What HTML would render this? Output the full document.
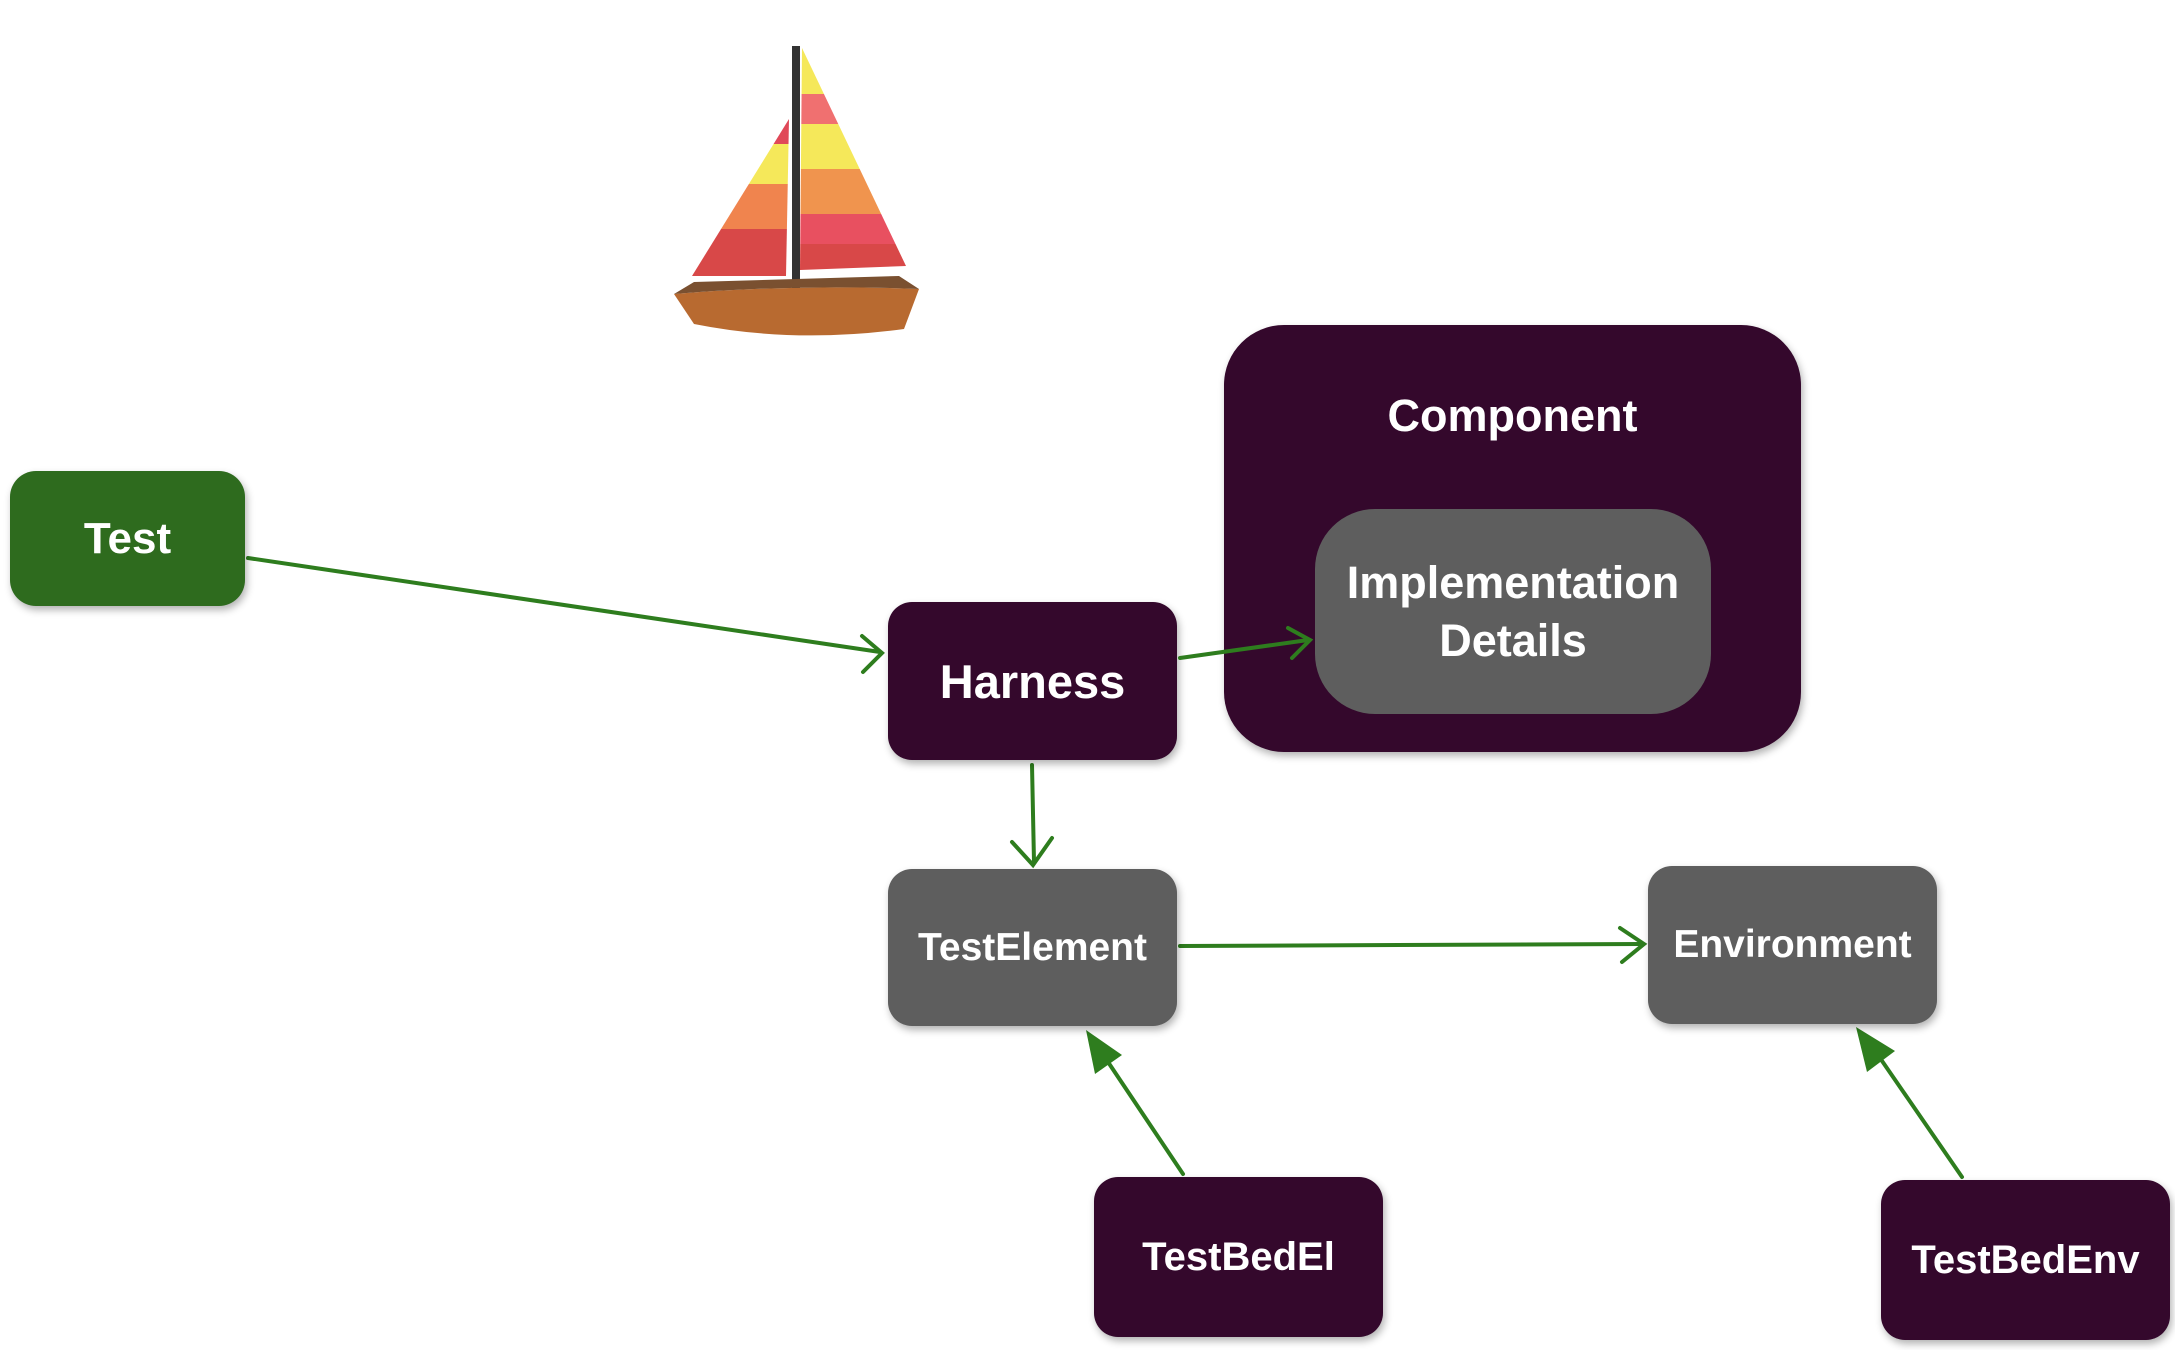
<!DOCTYPE html>
<html><head><meta charset="utf-8"><style>
body{margin:0;width:2175px;height:1350px;background:#fff;position:relative;overflow:hidden;font-family:"Liberation Sans",sans-serif;}
.b{position:absolute;display:flex;align-items:center;justify-content:center;text-align:center;color:#fff;font-weight:bold;box-shadow:2px 4px 8px rgba(0,0,0,0.3);}
.d{background:#34082c;}
.g{background:#5e5e5e;}
</style></head><body>
<svg width="2175" height="1350" style="position:absolute;left:0;top:0">
<defs><clipPath id="rs"><polygon points="128,4 232,222 126,226"/></clipPath>
<clipPath id="ls"><polygon points="115,75 18,232 112,232"/></clipPath></defs>
<g transform="translate(674,44)">
<g clip-path="url(#rs)">
<rect x="100" y="0" width="150" height="50" fill="#f5e85a"/>
<rect x="100" y="50" width="150" height="30" fill="#f07070"/>
<rect x="100" y="80" width="150" height="45" fill="#f5e85a"/>
<rect x="100" y="125" width="150" height="45" fill="#f0944e"/>
<rect x="100" y="170" width="150" height="30" fill="#e85060"/>
<rect x="100" y="200" width="150" height="30" fill="#d84848"/>
</g>
<g clip-path="url(#ls)">
<rect x="0" y="70" width="120" height="30" fill="#e04858"/>
<rect x="0" y="100" width="120" height="40" fill="#f5e85a"/>
<rect x="0" y="140" width="120" height="45" fill="#f0844e"/>
<rect x="0" y="185" width="120" height="50" fill="#d84848"/>
</g>
<rect x="118" y="2" width="8" height="262" fill="#333"/>
<path d="M0,250 Q120,240 245,245 L230,285 Q120,300 20,280 Z" fill="#b86a30"/>
<path d="M0,250 Q120,240 245,245 L225,232 L20,238 Z" fill="#7a5030"/>
</g>
<g stroke="#2e7d1e" stroke-width="4" fill="none" stroke-linecap="round">
<path d="M248,558 L880,652"/><path d="M862,636 L882,653 L863,672"/>
<path d="M1032,765 L1034,862"/><path d="M1012,842 L1033,865 L1052,838"/>
<path d="M1180,946 L1642,944"/><path d="M1620,928 L1644,944 L1622,962"/>
<path d="M1183,1174 L1100,1050"/>
<path d="M1962,1177 L1880,1058"/>
</g>
<polygon points="1086,1030 1122,1055 1095,1074" fill="#2e7d1e"/>
<polygon points="1856,1027 1895,1051 1867,1072" fill="#2e7d1e"/>
</svg>
<div class="b" style="left:10px;top:471px;width:235px;height:135px;border-radius:26px;background:#2e6b1e;font-size:44px">Test</div>
<div class="b d" style="left:1224px;top:325px;width:577px;height:427px;border-radius:60px;align-items:flex-start;padding-top:65px;box-sizing:border-box;font-size:45px">Component</div>
<div class="b g" style="left:1315px;top:509px;width:396px;height:205px;border-radius:60px;font-size:45px;line-height:58px;box-shadow:none">Implementation<br>Details</div>
<div class="b d" style="left:888px;top:602px;width:289px;height:158px;border-radius:24px;font-size:47px">Harness</div>
<div class="b g" style="left:888px;top:869px;width:289px;height:157px;border-radius:24px;font-size:39px">TestElement</div>
<div class="b g" style="left:1648px;top:866px;width:289px;height:158px;border-radius:24px;font-size:39px">Environment</div>
<div class="b d" style="left:1094px;top:1177px;width:289px;height:160px;border-radius:24px;font-size:40px">TestBedEl</div>
<div class="b d" style="left:1881px;top:1180px;width:289px;height:160px;border-radius:24px;font-size:40px">TestBedEnv</div>
<svg width="2175" height="1350" style="position:absolute;left:0;top:0;pointer-events:none">
<g stroke="#2e7d1e" stroke-width="4" fill="none" stroke-linecap="round">
<path d="M1180,658 L1308,640"/><path d="M1288,628 L1310,640 L1292,658"/>
</g>
</svg>
</body></html>
